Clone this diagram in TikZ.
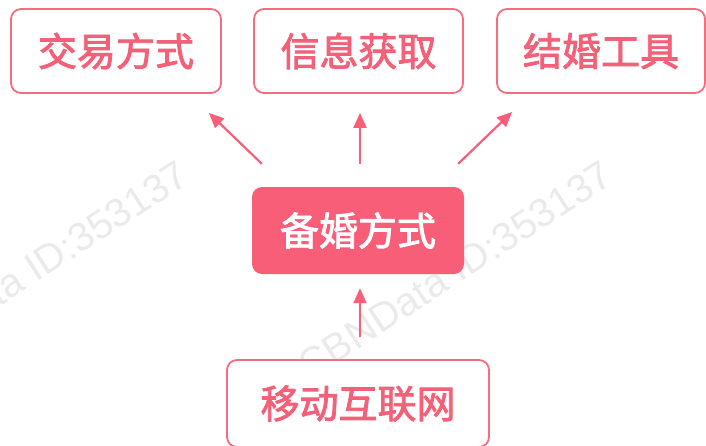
\documentclass[tikz,border=0pt]{standalone}
\usepackage{fontspec}
\setmainfont{Liberation Sans}
\newfontfamily\cjk[FakeBold=2.2]{Noto Sans CJK SC}
\usetikzlibrary{arrows.meta}
\definecolor{pinkline}{RGB}{246,108,128}
\definecolor{pinktext}{RGB}{243,96,120}
\definecolor{pinkfill}{RGB}{249,94,121}
\definecolor{wmark}{RGB}{234,234,234}
\tikzset{
  outbox/.style={draw=pinkline, line width=1.8pt, rounded corners=10pt, fill=white,
    text=pinktext, font=\cjk\fontsize{39}{42}\selectfont, inner sep=0pt},
  midbox/.style={fill=pinkfill, rounded corners=10pt, text=white,
    font=\cjk\fontsize{39}{42}\selectfont, inner sep=0pt},
  arr/.style={draw=pinkfill, line width=2.2pt, -{Triangle[length=15pt,width=13pt]}},
  wm/.style={text=wmark, font=\fontsize{40}{44}\selectfont, rotate=33, inner sep=0pt}
}
\begin{document}
\begin{tikzpicture}[x=1pt,y=-1pt]
\useasboundingbox (0,0) rectangle (706,445);
% watermarks
\node[wm] (w1) at (31,270) {CBNData ID:353137};
\node[wm] (w2) at (455,270) {CBNData ID:353137};
% boxes
\node[outbox, minimum width=210pt, minimum height=84pt] (b1) at (116,51) {交易方式};
\node[outbox, minimum width=209pt, minimum height=84pt] (b2) at (358.5,51) {信息获取};
\node[outbox, minimum width=208pt, minimum height=84pt] (b3) at (601,51) {结婚工具};
\node[midbox, minimum width=212pt, minimum height=87pt] (m) at (358,230.5) {备婚方式};
\node[outbox, minimum width=262pt, minimum height=87pt] (bt) at (358,403.5) {移动互联网};
% arrows
\draw[arr] ([shift={(10,-23)}]m.north west) -- ([shift={(-13,19)}]b1.south east);
\draw[arr] ([shift={(2,-23)}]m.north) -- ([shift={(1.5,19)}]b2.south);
\draw[arr] ([shift={(-6,-23)}]m.north east) -- ([shift={(16,18)}]b3.south west);
\draw[arr] ([shift={(2,-22)}]bt.north) -- ([shift={(2,14)}]m.south);
\end{tikzpicture}
\end{document}
